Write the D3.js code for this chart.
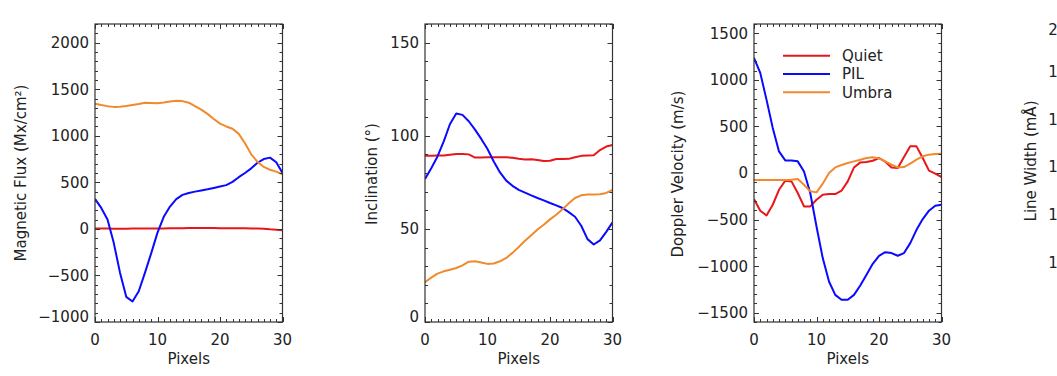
<!DOCTYPE html>
<html><head><meta charset="utf-8">
<script src="https://cdn.jsdelivr.net/npm/d3@7"></script>
<style>body{margin:0;background:#fff}text{font-family:"DejaVu Sans",sans-serif;fill:#222}</style>
</head><body><svg id="c" width="1057" height="376"></svg>
<script>
const pixels = [0,1,2,3,4,5,6,7,8,9,10,11,12,13,14,15,16,17,18,19,20,21,22,23,24,25,26,27,28,29,30];
const seriesNames = ["Quiet","PIL","Umbra"];
const seriesColors = ["#e8161b","#0a0aff","#f08a2c"];

const quietFlux = [5,4,3,2,2,2,3,3,4,4,5,5,6,7,8,9,9,9,9,9,8,8,7,7,6,5,4,2,-5,-10,-14];
const pilFlux   = [322,225,100,-150,-470,-730,-780,-670,-470,-260,-40,130,240,320,365,385,400,412,425,440,455,470,505,555,600,650,710,750,765,715,600];
const umbraFlux = [1345,1330,1318,1310,1312,1320,1330,1340,1355,1352,1350,1358,1368,1375,1372,1355,1318,1280,1235,1180,1130,1100,1075,1020,920,800,720,665,635,615,585];

const quietIncl = [89.3,89.3,89.4,89.4,89.8,90.2,90.2,90.0,88.3,88.3,88.5,88.4,88.5,88.4,88.2,87.6,87.2,87.4,87.0,86.4,86.6,87.5,87.5,87.6,88.5,89.2,89.4,89.5,92.3,94.2,95.0];
const pilIncl   = [76.8,82.6,88.9,97.0,106.3,111.9,111.2,107.8,103.3,98.3,92.9,86.2,80.3,75.9,73.1,70.9,69.5,68.0,66.6,65.3,63.9,62.6,61.2,59.0,56.5,51.7,44.5,41.6,43.8,48.4,53.5];
const umbraIncl = [21.4,23.8,26.0,27.2,28.1,29.0,30.4,32.4,32.6,31.9,31.2,31.4,32.6,34.4,37.1,40.3,43.6,46.6,49.7,52.2,55.1,57.6,60.5,63.7,66.6,68.0,68.4,68.4,68.6,69.3,70.9];

const quietDop = [-280,-405,-456,-341,-180,-83,-90,-215,-359,-359,-287,-233,-226,-226,-190,-90,60,114,118,132,161,121,60,53,172,286,286,161,25,-7,-43];
const pilDop   = [1237,1075,788,484,232,135,135,125,17,-215,-574,-914,-1165,-1309,-1362,-1362,-1309,-1208,-1093,-975,-889,-850,-860,-889,-860,-753,-610,-495,-405,-352,-341];
const umbraDop = [-75,-75,-75,-75,-75,-75,-72,-65,-126,-197,-208,-115,0,60,86,108,125,143,161,168,157,125,89,60,64,100,143,179,197,204,208];

const xTicks = [0,10,20,30];
const fluxTicks = [-1000,-500,0,500,1000,1500,2000];
const inclTicks = [0,50,100,150];
const dopTicks = [-1500,-1000,-500,0,500,1000,1500];
const widthTicks = [80,100,120,140,160,180,200];

const panels = [
  {left:95, title:"Magnetic Flux (Mx/cm²)", domain:[-1000,2200], ticks:fluxTicks, minor:100, series:[quietFlux,pilFlux,umbraFlux], titleX:21, titleY:173, xLabels:true},
  {left:425, title:"Inclination (°)", domain:[0,160], ticks:inclTicks, minor:10, series:[quietIncl,pilIncl,umbraIncl], titleX:372, titleY:174, xLabels:true},
  {left:754, title:"Doppler Velocity (m/s)", domain:[-1600,1600], ticks:dopTicks, minor:100, series:[quietDop,pilDop,umbraDop], titleX:678, titleY:174, legend:true, xLabels:true},
  {left:1083, title:"Line Width (mÅ)", domain:[75,200], ticks:widthTicks, minor:5, series:[], titleX:1031, titleY:161, xLabels:false}
];

const svg = d3.select("#c");
const plotTop = 24, plotBottom = 322, pw = 187.5;
const fmt = v => (v<0 ? "\u2212" : "") + Math.abs(v);
const axisColor = "#333";

panels.forEach(p => {
  const x = d3.scaleLinear().domain([0,30]).range([p.left, p.left+pw]);
  const y = d3.scaleLinear().domain(p.domain).range([plotBottom, plotTop]);
  const g = svg.append("g");

  const clipId = "clip"+p.left;
  svg.append("clipPath").attr("id",clipId).append("rect")
    .attr("x",p.left).attr("y",plotTop).attr("width",pw).attr("height",plotBottom-plotTop);

  const line = d3.line().x((d,i)=>x(pixels[i])).y(d=>y(d));
  p.series.forEach((s,k)=>{
    g.append("path").attr("d",line(s)).attr("fill","none")
      .attr("stroke",seriesColors[k]).attr("stroke-width",2)
      .attr("stroke-linejoin","round").attr("clip-path",`url(#${clipId})`);
  });

  g.append("rect").attr("x",p.left).attr("y",plotTop).attr("width",pw).attr("height",plotBottom-plotTop)
    .attr("fill","none").attr("stroke",axisColor).attr("stroke-width",1.2);

  pixels.forEach(v=>{
    const major = xTicks.includes(v);
    const len = major ? 5 : 3;
    const xx = Math.round(x(v))+0.5;
    g.append("line").attr("x1",xx).attr("x2",xx).attr("y1",plotBottom).attr("y2",plotBottom-len).attr("stroke",axisColor);
    g.append("line").attr("x1",xx).attr("x2",xx).attr("y1",plotTop).attr("y2",plotTop+len).attr("stroke",axisColor);
  });
  if (p.xLabels) {
    xTicks.forEach(v=>{
      g.append("text").attr("x",x(v)).attr("y",345).attr("text-anchor","middle")
        .attr("font-size",15).text(v);
    });
    g.append("text").attr("x",p.left+pw/2).attr("y",363.5).attr("text-anchor","middle")
      .attr("font-size",15).text("Pixels");
  }

  const minorVals = d3.range(Math.ceil(p.domain[0]/p.minor)*p.minor, p.domain[1]+1e-9, p.minor);
  minorVals.forEach(v=>{
    const major = p.ticks.includes(v);
    const len = major ? 5 : 3;
    const yy = Math.round(y(v))+0.5;
    g.append("line").attr("x1",p.left).attr("x2",p.left+len).attr("y1",yy).attr("y2",yy).attr("stroke",axisColor);
    g.append("line").attr("x1",p.left+pw).attr("x2",p.left+pw-len).attr("y1",yy).attr("y2",yy).attr("stroke",axisColor);
  });
  p.ticks.forEach(v=>{
    let yy = y(v);
    if (Math.abs(yy-plotBottom)<1) yy -= 5;
    if (Math.abs(yy-plotTop)<1) yy += 6;
    g.append("text").attr("x",p.left-6).attr("y",yy).attr("dy","0.36em")
      .attr("text-anchor","end").attr("font-size",15).text(fmt(v));
  });

  g.append("text").attr("transform",`translate(${p.titleX},${p.titleY}) rotate(-90)`)
    .attr("text-anchor","middle").attr("dy","0.36em").attr("font-size",15).text(p.title);

  if (p.legend) {
    const lx0 = p.left + 29, lx1 = p.left + 76, tx = p.left + 88;
    seriesNames.forEach((n,k)=>{
      const ly = 55.7 + k*18.3;
      g.append("line").attr("x1",lx0).attr("x2",lx1).attr("y1",ly).attr("y2",ly)
        .attr("stroke",seriesColors[k]).attr("stroke-width",2);
      g.append("text").attr("x",tx).attr("y",ly).attr("dy","0.36em").attr("font-size",15).text(n);
    });
  }
});
</script></body></html>
